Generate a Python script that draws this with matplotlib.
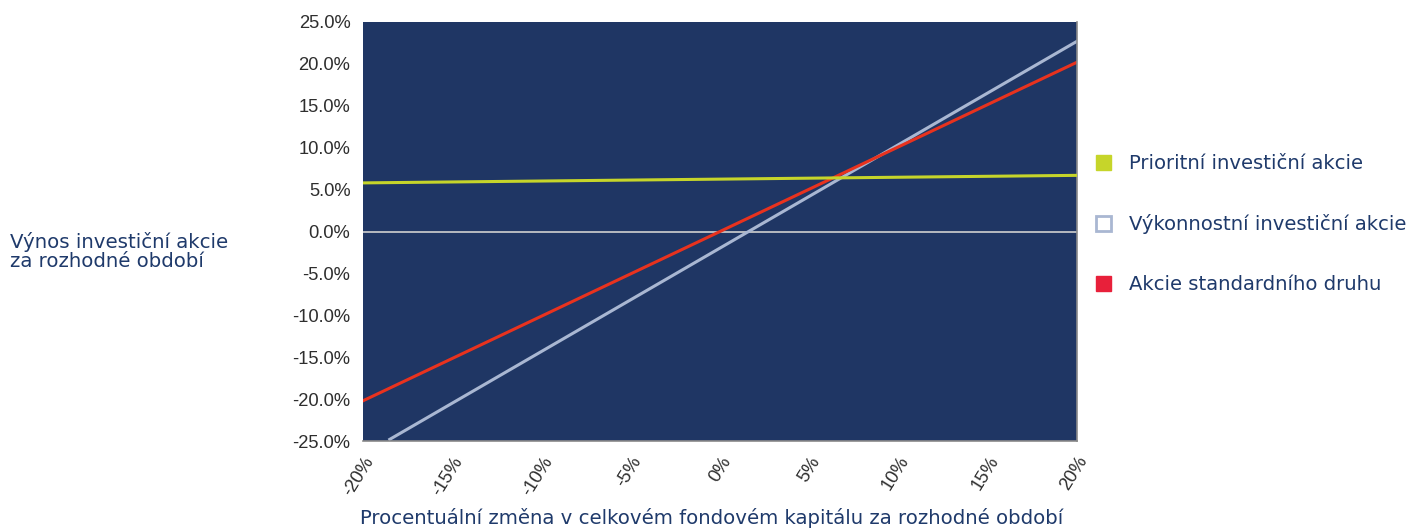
import matplotlib.pyplot as plt
from matplotlib.patches import Patch
from matplotlib.ticker import FuncFormatter

# values (x = change in fund capital, y = share return, in %)
pref_x = [-20, 20]
pref_y = [5.8, 6.7]
perf_x = [-18.5, 20]
perf_y = [-24.8, 22.7]
std_x = [-20, 20]
std_y = [-20.2, 20.2]

x_ticks = [-20, -15, -10, -5, 0, 5, 10, 15, 20]
y_ticks = [-25, -20, -15, -10, -5, 0, 5, 10, 15, 20, 25]

labels = ["Prioritní investiční akcie",
          "Výkonnostní investiční akcie",
          "Akcie standardního druhu"]

navy = "#1f3664"
text_col = "#1f3a6b"
yellow = "#c6d52a"
blue = "#a9b7d2"
red = "#e8321e"

fig = plt.figure(figsize=(14.13, 5.30), dpi=100)
ax = fig.add_axes([0.2569, 0.1679, 0.5053, 0.7906])
ax.set_facecolor(navy)

ax.axhline(0, color="#d0d0d0", lw=1.2, zorder=1)
ax.plot(pref_x, pref_y, color=yellow, lw=2.2, zorder=3)
ax.plot(perf_x, perf_y, color=blue, lw=2.2, zorder=2)
ax.plot(std_x, std_y, color=red, lw=2.2, zorder=2)

ax.set_xlim(-20, 20)
ax.set_ylim(-25, 25)
ax.set_xticks(x_ticks)
ax.set_yticks(y_ticks)
ax.xaxis.set_major_formatter(FuncFormatter(lambda v, p: f"{v:.0f}%"))
ax.yaxis.set_major_formatter(FuncFormatter(lambda v, p: f"{v:.1f}%"))
ax.tick_params(length=0, labelsize=13.2, labelcolor="#2e2e2e", pad=9)
for lab in ax.get_yticklabels() + ax.get_xticklabels():
    lab.set_family("Liberation Sans")
for lab in ax.get_xticklabels():
    lab.set_rotation(58)
    lab.set_ha("right")
    lab.set_rotation_mode("anchor")

for s in ["left", "top"]:
    ax.spines[s].set_visible(False)
for s in ["right", "bottom"]:
    ax.spines[s].set_color("#8a8a8a")
    ax.spines[s].set_linewidth(1.2)

fig.text(0.007, 0.525, "Výnos investiční akcie\nza rozhodné období",
         fontsize=14.2, color=text_col, va="center", ha="left", linespacing=1.0)
fig.text(0.5035, 0.003, "Procentuální změna v celkovém fondovém kapitálu za rozhodné období",
         fontsize=14.2, color=text_col, va="bottom", ha="center")

handles = [Patch(facecolor=yellow, edgecolor=yellow),
           Patch(facecolor="white", edgecolor=blue, linewidth=2),
           Patch(facecolor="#e8203a", edgecolor="#e8203a")]
fig.legend(handles, labels, loc="upper left", bbox_to_anchor=(0.7685, 0.728),
           frameon=False, fontsize=14.1, labelcolor=text_col,
           handlelength=0.8, handleheight=0.8, handletextpad=0.9,
           labelspacing=2.1, borderpad=0)

fig.savefig("out.png", dpi=100)
